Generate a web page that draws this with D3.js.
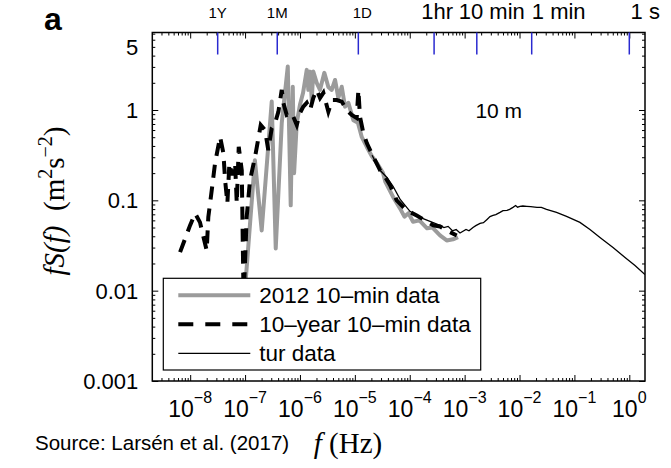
<!DOCTYPE html>
<html>
<head>
<meta charset="utf-8">
<script src="https://cdn.jsdelivr.net/npm/d3@7"></script>
<style>
  body { margin: 0; background: #fff; }
  svg text { font-family: Arial, "Liberation Sans", Helvetica, sans-serif; }
  .serif { font-family: "Liberation Serif", "Times New Roman", serif; }
</style>
</head>
<body>
<div id="wrapper"></div>
<script>
// 1. Data
const grayFreq = [9.23e-8, 1.05e-7, 1.51e-7, 2.01e-7, 3.06e-7, 3.62e-7, 4.66e-7, 6.0e-7, 6.79e-7, 7.40e-7,
  7.82e-7, 8.75e-7, 1.0e-6, 1.14e-6, 1.33e-6, 1.42e-6, 1.53e-6, 1.64e-6, 1.75e-6, 2.02e-6,
  2.32e-6, 2.78e-6, 3.29e-6, 3.79e-6, 4.36e-6, 5.0e-6, 5.77e-6, 6.62e-6, 7.62e-6, 9.4e-6,
  1.14e-5, 1.34e-5, 1.65e-5, 2.03e-5, 2.51e-5, 3.27e-5, 3.6e-5, 4.03e-5, 4.97e-5, 6.65e-5,
  8.0e-5, 9.5e-5, 1.15e-4, 1.5e-4, 2.07e-4, 2.6e-4, 3.56e-4, 4.72e-4, 6.15e-4, 7.59e-4]
const grayVal = [0.006, 0.0155, 0.278, 0.0464, 1.24, 0.0293, 0.717, 3.03, 0.088, 1.81,
  0.2, 0.72, 1.14, 1.55, 2.78, 1.67, 2.66, 1.29, 2.66, 2.0,
  1.67, 2.58, 1.8, 1.67, 2.15, 1.36, 1.81, 1.09, 1.2, 0.77,
  0.72, 0.5, 0.39, 0.31, 0.26, 0.2, 0.16, 0.14, 0.109, 0.0815,
  0.066, 0.072, 0.058, 0.06, 0.049, 0.05, 0.041, 0.036, 0.037, 0.039]

const dashFreq = [6.55e-9, 9.95e-9, 1.23e-8, 1.51e-8, 2.0e-8, 2.14e-8, 2.47e-8, 2.84e-8, 3.51e-8, 4.03e-8,
  4.33e-8, 4.76e-8, 5.18e-8, 5.79e-8, 6.58e-8, 7.06e-8, 7.67e-8, 8.71e-8, 9.4e-8, 1.07e-7,
  1.23e-7, 1.52e-7, 1.93e-7, 2.31e-7, 2.65e-7, 3.06e-7, 3.52e-7, 4.05e-7, 4.66e-7, 4.98e-7,
  5.74e-7, 7.08e-7, 8.75e-7, 1.0e-6, 1.15e-6, 1.33e-6, 1.53e-6, 1.75e-6, 2.02e-6, 2.32e-6,
  2.67e-6, 3.29e-6, 3.85e-6, 4.68e-6, 5.77e-6, 7.11e-6, 8.79e-6, 1.08e-5, 1.16e-5, 1.24e-5,
  1.43e-5, 1.65e-5, 2.17e-5, 2.88e-5, 3.55e-5, 4.38e-5, 5.79e-5, 8.81e-5, 1.34e-4, 1.9e-4,
  2.69e-4, 3.56e-4, 4.72e-4, 7.18e-4]
const dashVal = [0.0267, 0.0528, 0.0717, 0.057, 0.0278, 0.0652, 0.129, 0.258, 0.505, 0.333,
  0.167, 0.0927, 0.258, 0.19, 0.258, 0.0927, 0.391, 0.215, 0.0077, 0.0652,
  0.167, 0.303, 0.681, 0.6, 0.36, 0.63, 0.717, 0.958, 1.67, 1.2,
  0.88, 0.926, 0.681, 0.926, 1.09, 1.2, 1.0, 1.36, 1.67, 1.36,
  1.55, 0.958, 1.29, 1.29, 1.24, 1.0, 0.88, 0.815, 1.67, 0.843,
  0.555, 0.43, 0.303, 0.215, 0.182, 0.147, 0.1, 0.0774, 0.068, 0.06,
  0.0528, 0.0514, 0.0464, 0.0408]

const turFreq = [2.06e-5, 2.88e-5, 3.81e-5, 4.97e-5, 6.65e-5, 1.01e-4, 1.54e-4, 2.34e-4, 3.56e-4, 4.2e-4,
  5.0e-4, 6.0e-4, 7.0e-4, 8.24e-4, 1.06e-3, 1.2e-3, 1.42e-3, 1.6e-3, 1.91e-3, 2.2e-3,
  2.56e-3, 2.9e-3, 3.29e-3, 3.7e-3, 4.41e-3, 5.0e-3, 5.92e-3, 6.6e-3, 7.6e-3, 8.5e-3,
  9.2e-3, 1.02e-2, 1.15e-2, 1.36e-2, 1.6e-2, 2.08e-2, 2.5e-2, 3.1e-2, 4.72e-2, 7.18e-2,
  0.126, 0.192, 0.292, 0.505, 0.836, 1.27, 1.93]
const turVal = [0.316, 0.215, 0.18, 0.143, 0.103, 0.0755, 0.0648, 0.0585, 0.0528, 0.05,
  0.0515, 0.046, 0.0475, 0.0435, 0.0476, 0.046, 0.0501, 0.0525, 0.0555, 0.0565,
  0.0615, 0.066, 0.068, 0.0695, 0.0736, 0.077, 0.0774, 0.0795, 0.0836, 0.0875,
  0.084, 0.0858, 0.0865, 0.0858, 0.085, 0.0836, 0.0835, 0.0794, 0.0736, 0.0664,
  0.057, 0.0476, 0.0388, 0.03, 0.0233, 0.019, 0.0151]

const periodLabels = ["1Y", "1M", "1D", "1hr", "10 min", "1 min", "1 s"]
const periodSeconds = [365 * 86400, 30 * 86400, 86400, 3600, 600, 60, 1]
const xTickExps = [-8, -7, -6, -5, -4, -3, -2, -1, 0]
const yTickValues = [0.001, 0.01, 0.1, 1, 5]
const yTickLabels = ["0.001", "0.01", "0.1", "1", "5"]
const legendLabels = ["2012 10\u2013min data", "10\u2013year 10\u2013min data", "tur data"]

// 2. Dimensions
let dimensions = {
  width: 671,
  height: 468,
  margin: { top: 32.5, right: 26, bottom: 87, left: 152.3 },
}
dimensions.boundedWidth = dimensions.width - dimensions.margin.left - dimensions.margin.right
dimensions.boundedHeight = dimensions.height - dimensions.margin.top - dimensions.margin.bottom

// 3. Canvas
const wrapper = d3.select("#wrapper")
  .append("svg")
  .attr("width", dimensions.width)
  .attr("height", dimensions.height)

const bounds = wrapper.append("g")
  .attr("transform", `translate(${dimensions.margin.left},${dimensions.margin.top})`)

// 4. Scales
const xScale = d3.scaleLog()
  .domain([Math.pow(10, -8.69), Math.pow(10, 0.286)])
  .range([0, dimensions.boundedWidth])

const yScale = d3.scaleLog()
  .domain([0.001, 7.21])
  .range([dimensions.boundedHeight, 0])

bounds.append("clipPath").attr("id", "plotClip")
  .append("rect")
  .attr("width", dimensions.boundedWidth)
  .attr("height", dimensions.boundedHeight)

// 5. Data lines
const lineGen = d3.line()
  .x(d => xScale(d[0]))
  .y(d => yScale(d[1]))

const plot = bounds.append("g").attr("clip-path", "url(#plotClip)")

plot.append("path")
  .datum(d3.zip(grayFreq, grayVal))
  .attr("d", lineGen)
  .attr("fill", "none")
  .attr("stroke", "#9b9b9b")
  .attr("stroke-width", 4)
  .attr("stroke-linejoin", "round")

plot.append("path")
  .datum(d3.zip(dashFreq, dashVal))
  .attr("d", lineGen)
  .attr("fill", "none")
  .attr("stroke", "#000")
  .attr("stroke-width", 4)
  .attr("stroke-dasharray", "13,9")

plot.append("path")
  .datum(d3.zip(turFreq, turVal))
  .attr("d", lineGen)
  .attr("fill", "none")
  .attr("stroke", "#000")
  .attr("stroke-width", 1.3)

// 6. Axes (inward ticks on all four sides)
const majorX = xTickExps.map(e => Math.pow(10, e))
const minorX = []
for (let e = -9; e <= 0; e++) for (let k = 2; k <= 9; k++) {
  const v = k * Math.pow(10, e)
  if (v > xScale.domain()[0] && v < xScale.domain()[1]) minorX.push(v)
}
const majorY = [0.001, 0.01, 0.1, 1]
const minorY = []
for (let e = -3; e <= 0; e++) for (let k = 2; k <= 9; k++) {
  const v = k * Math.pow(10, e)
  if (v < yScale.domain()[1]) minorY.push(v)
}

function tickAxis(gen, values, size, transform) {
  const g = bounds.append("g")
    .attr("transform", transform)
    .call(gen.tickValues(values).tickSize(-size).tickSizeOuter(0).tickFormat(""))
  g.select(".domain").remove()
  g.selectAll("line").attr("stroke", "#000").attr("stroke-width", 1)
  return g
}
const W = dimensions.boundedWidth, H = dimensions.boundedHeight
tickAxis(d3.axisBottom(xScale), majorX, 6, `translate(0,${H})`)
tickAxis(d3.axisBottom(xScale), minorX, 3, `translate(0,${H})`)
tickAxis(d3.axisTop(xScale), majorX, 6, `translate(0,0)`)
tickAxis(d3.axisTop(xScale), minorX, 3, `translate(0,0)`)
tickAxis(d3.axisLeft(yScale), majorY, 6, `translate(0,0)`)
tickAxis(d3.axisLeft(yScale), minorY, 3, `translate(0,0)`)
tickAxis(d3.axisRight(yScale), majorY, 6, `translate(${W},0)`)
tickAxis(d3.axisRight(yScale), minorY, 3, `translate(${W},0)`)

bounds.append("rect")
  .attr("width", W)
  .attr("height", H)
  .attr("fill", "none")
  .attr("stroke", "#000")
  .attr("stroke-width", 1.5)

// x tick labels 10^n
const xLabels = bounds.append("g")
  .selectAll("text")
  .data(xTickExps)
  .join("text")
  .attr("x", d => xScale(Math.pow(10, d)))
  .attr("y", H + 36)
  .attr("text-anchor", "middle")
  .style("font-size", "23px")
xLabels.append("tspan").text("10")
xLabels.append("tspan")
  .attr("dy", -14)
  .style("font-size", "16px")
  .text(d => d < 0 ? "\u2212" + Math.abs(d) : d)

// y tick labels
bounds.append("g")
  .selectAll("text")
  .data(yTickValues)
  .join("text")
  .attr("x", -14)
  .attr("y", d => yScale(d))
  .attr("dy", "0.36em")
  .attr("text-anchor", "end")
  .style("font-size", "22px")
  .text((d, i) => yTickLabels[i])

// period markers along top
const periodX = periodSeconds.map(s => xScale(1 / s))
bounds.append("g")
  .selectAll("line")
  .data(periodX)
  .join("line")
  .attr("x1", d => d).attr("x2", d => d)
  .attr("y1", 0).attr("y2", 22)
  .attr("stroke", "#2a2ad0")
  .attr("stroke-width", 1.5)

const labelShift = [0, 0, 4, 3, 15, 27, 16]
bounds.append("g")
  .selectAll("text")
  .data(periodLabels)
  .join("text")
  .attr("x", (d, i) => periodX[i] + labelShift[i])
  .attr("y", (d, i) => i < 3 ? -15 : -14)
  .attr("text-anchor", "middle")
  .style("font-size", (d, i) => i < 3 ? "15px" : "22px")
  .text(d => d)

// "10 m" annotation
bounds.append("text")
  .attr("x", xScale(2.2e-3) - 8)
  .attr("y", yScale(1) + 8)
  .style("font-size", "21px")
  .text("10 m")

// panel letter
wrapper.append("text")
  .attr("x", 44)
  .attr("y", 30)
  .style("font-size", "32px")
  .style("font-weight", "bold")
  .text("a")

// y axis label
const yLabel = wrapper.append("text")
  .attr("class", "serif")
  .attr("transform", "translate(64,201) rotate(-90)")
  .attr("text-anchor", "middle")
  .style("font-size", "29px")
yLabel.append("tspan").style("font-style", "italic").text("fS(f)")
yLabel.append("tspan").text("\u00a0\u00a0(m")
yLabel.append("tspan").attr("dy", -12).style("font-size", "20px").text("2")
yLabel.append("tspan").attr("dy", 12).text("s")
yLabel.append("tspan").attr("dy", -12).style("font-size", "20px").text("\u22122")
yLabel.append("tspan").attr("dy", 12).text(")")

// x axis label and source
const xLabel = wrapper.append("text")
  .attr("class", "serif")
  .attr("x", 348)
  .attr("y", 453)
  .attr("text-anchor", "middle")
  .style("font-size", "29px")
xLabel.append("tspan").style("font-style", "italic").text("f")
xLabel.append("tspan").text(" (Hz)")

wrapper.append("text")
  .attr("x", 35)
  .attr("y", 450)
  .style("font-size", "20.5px")
  .text("Source: Lars\u00e9n et al. (2017)")

// 7. Legend
const legend = bounds.append("g")
  .attr("transform", `translate(${163.3 - dimensions.margin.left},${278.3 - dimensions.margin.top})`)

legend.append("rect")
  .attr("width", 317.4)
  .attr("height", 91.7)
  .attr("fill", "#fff")
  .attr("stroke", "#000")
  .attr("stroke-width", 1.2)

const legendStyles = [
  { stroke: "#9b9b9b", width: 4, dash: null },
  { stroke: "#000", width: 4, dash: "15,12" },
  { stroke: "#000", width: 1.3, dash: null },
]
const rows = legend.selectAll("g")
  .data(legendLabels)
  .join("g")
  .attr("transform", (d, i) => `translate(0,${17 + i * 29})`)

rows.append("line")
  .attr("x1", 15).attr("x2", 87)
  .attr("stroke", (d, i) => legendStyles[i].stroke)
  .attr("stroke-width", (d, i) => legendStyles[i].width)
  .attr("stroke-dasharray", (d, i) => legendStyles[i].dash)

rows.append("text")
  .attr("x", 96)
  .attr("dy", "0.36em")
  .style("font-size", "22.5px")
  .text(d => d)
</script>
</body>
</html>
